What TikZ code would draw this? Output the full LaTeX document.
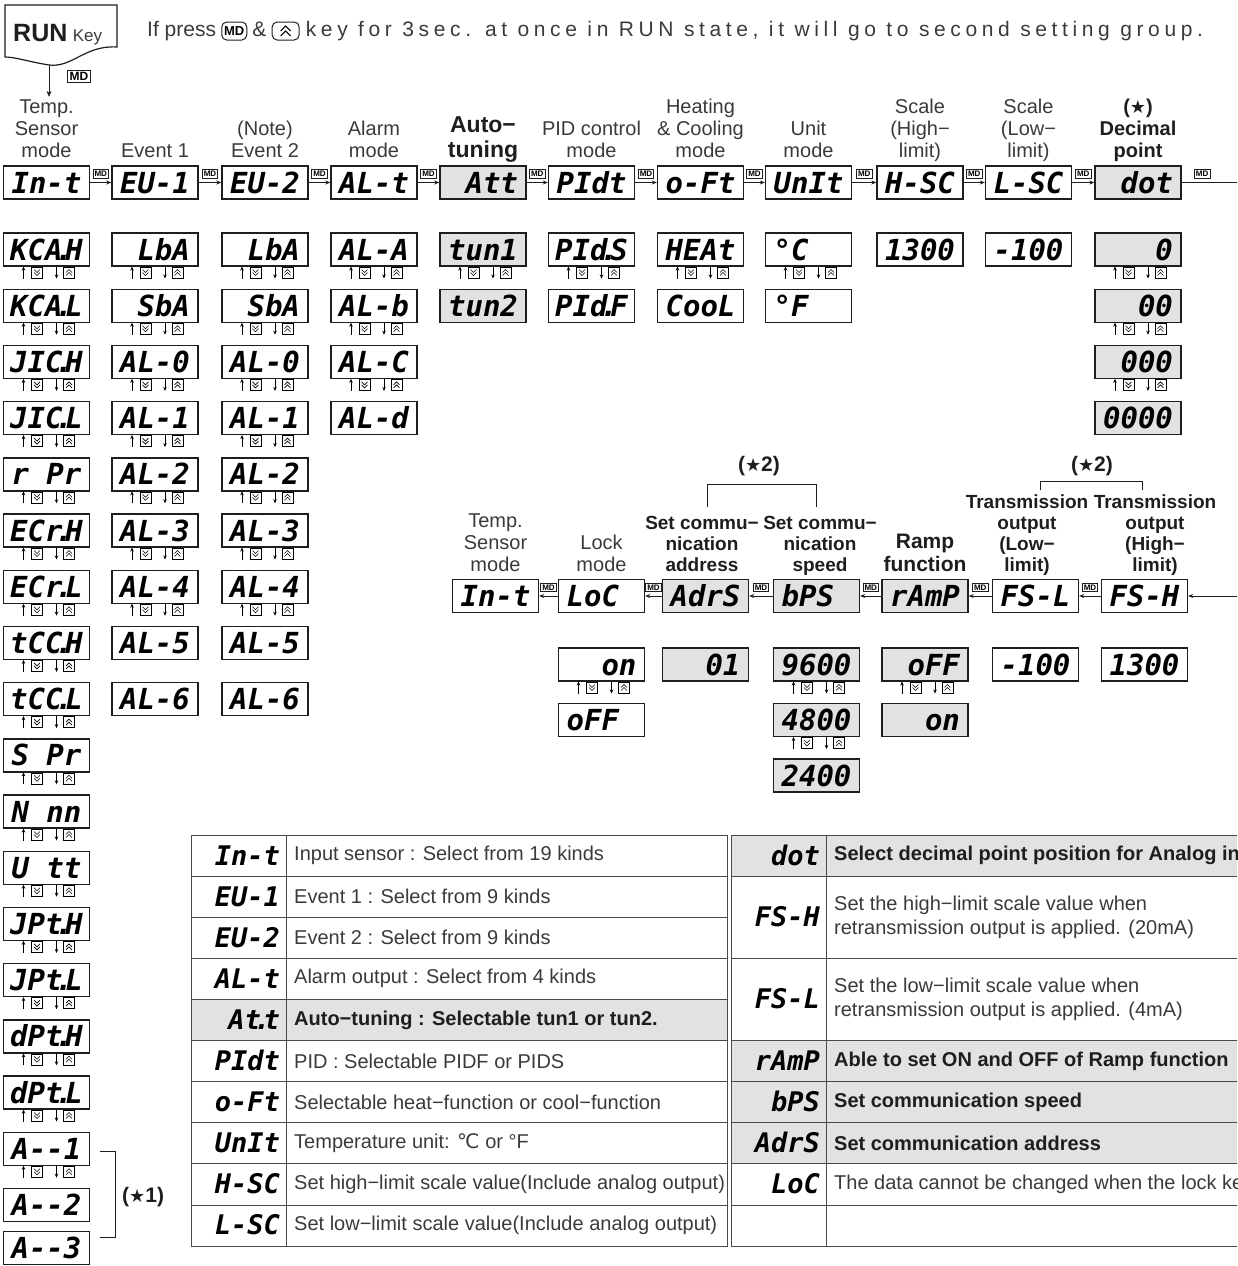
\documentclass[tikz,border=0pt]{standalone}
\usepackage{fontspec}
\setmainfont{Liberation Sans}
\newfontfamily\segfam{DejaVu Sans Mono}
\newfontfamily\symfam{DejaVu Sans}
\newfontfamily\widefam{Liberation Sans}[LetterSpace=22]
\usetikzlibrary{arrows.meta, positioning}
\definecolor{ink}{HTML}{1E1E1E}
\definecolor{txt}{HTML}{3A3A3A}
\definecolor{lcd}{HTML}{E2E2E2}
\definecolor{rulec}{HTML}{4A4A4A}
\newcommand{\sdot}{\rlap{\kern-0.25em.}\kern0.1em}
\newcommand{\blk}{\hphantom{0}}
\newcommand{\starsym}{{\symfam\fontsize{18}{18}\selectfont ★}}
\tikzset{
  disp/.style={draw=ink, line width=1.4pt, minimum width=86pt, minimum height=33pt,
    inner sep=0pt, text width=76pt, align=center, text height=21pt, text depth=0pt,
    font=\segfam\bfseries\itshape\fontsize{29}{29}\selectfont},
  dispg/.style={disp, fill=lcd},
  lbl/.style={anchor=south, inner sep=0pt, text depth=0pt, align=center, text=txt,
    font=\fontsize{20}{22}\selectfont},
  blbl/.style={lbl, text=ink, font=\bfseries\fontsize{19}{21}\selectfont},
  mdkey/.style={draw=ink, line width=0.6pt, inner sep=1.5pt, font=\bfseries\fontsize{8}{8}\selectfont},
  mdarr/.style={-{Stealth[length=5pt,width=4pt]}, line width=0.7pt, draw=ink},
  btn/.style={draw=ink, line width=1pt, rounded corners=5pt, minimum height=18pt,
    minimum width=25pt, inner sep=2pt, font=\bfseries\fontsize{13}{13}\selectfont},
  toptxt/.style={inner sep=0pt, text=txt, text height=15pt, text depth=4pt,
    font=\fontsize{21}{24}\selectfont},
  cellseg/.style={anchor=east, inner sep=0pt, text height=19pt, text depth=0pt,
    font=\segfam\bfseries\itshape\fontsize{27}{27}\selectfont},
  celltxt/.style={anchor=west, inner sep=0pt, align=left, text=txt, font=\fontsize{20}{24}\selectfont},
  cellbold/.style={celltxt, text=ink, font=\bfseries\fontsize{20}{24}\selectfont},
  updn/.pic={
    \draw[line width=0.9pt, -{Stealth[length=4pt,width=3.5pt]}] (-23,6) -- (-23,-6);
    \draw[line width=0.5pt] (-15,-5.5) rectangle (-4,5.5);
    \draw[line width=0.6pt] (-12.5,-3) -- (-9.5,0) -- (-6.5,-3) (-12.5,0) -- (-9.5,3) -- (-6.5,0);
    \draw[line width=0.9pt, -{Stealth[length=4pt,width=3.5pt]}] (10,-6) -- (10,6);
    \draw[line width=0.5pt] (17,-5.5) rectangle (28,5.5);
    \draw[line width=0.6pt] (19.5,0) -- (22.5,-3) -- (25.5,0) (19.5,3) -- (22.5,0) -- (25.5,3);
  }
}

\begin{document}
\begin{tikzpicture}[x=1pt, y=-1pt]
  \useasboundingbox (0,0) rectangle (1237,1266);
  \clip (0,0) rectangle (1237,1266);

  % RUN key and the note on top
  \draw[draw=ink, line width=1.2pt] (5,5) -- (117,5) -- (117,47)
    .. controls (85,45) and (72,68) .. (49,65) .. controls (30,62) and (15,57) .. (5,57) -- cycle;
  \node[anchor=base west, inner sep=0pt, text=ink, font=\bfseries\fontsize{25}{25}\selectfont] (run) at (13,41) {RUN};
  \node[inner sep=0pt, text=txt, font=\fontsize{17}{17}\selectfont, right=5pt of run.base east, anchor=base west] (key) {Key};
  \coordinate (runbot) at (49,65);
  \node[mdkey, font=\bfseries\fontsize{12}{12}\selectfont, inner sep=2pt] (runmd) at (79,76) {MD};

  \node[toptxt, anchor=west] (ifp) at (147,31) {If press};
  \node[btn, right=5pt of ifp] (bmd) {MD};
  \node[toptxt, right=5pt of bmd] (amp) {\&};
  \node[btn, right=5pt of amp, minimum width=27pt] (bup) {};
  \draw[line width=1pt] ([xshift=-5pt]bup.center) -- ([yshift=5pt]bup.center) -- ([xshift=5pt]bup.center);
  \draw[line width=1pt] ([xshift=-5pt,yshift=-5pt]bup.center) -- (bup.center) -- ([xshift=5pt,yshift=-5pt]bup.center);
  \node[toptxt, right=6pt of bup, font=\widefam\fontsize{21}{24}\selectfont] (rest) {key for 3sec. at once in RUN state, it will go to second setting group.};

  % first setting group
  \node[disp] (ins) at (46.5,182.5) {In-t};
  \node[disp] (ev1) at (155,182.5) {EU-1};
  \node[disp] (ev2) at (265,182.5) {EU-2};
  \node[disp] (alt) at (374,182.5) {AL-t};
  \node[dispg] (att) at (483,182.5) {\blk Att};
  \node[disp] (pid) at (591.5,182.5) {PIdt};
  \node[disp] (oft) at (700.5,182.5) {o-Ft};
  \node[disp] (unit) at (808.5,182.5) {UnIt};
  \node[disp] (hsc) at (920,182.5) {H-SC};
  \node[disp] (lsc) at (1028.5,182.5) {L-SC};
  \node[dispg] (dot) at (1138,182.5) {\blk dot};

  \node[lbl] (l-ins) at (46.5,158) {Temp.\\Sensor\\mode};
  \node[lbl] (l-ev1) at (155,158) {Event 1};
  \node[lbl] (l-ev2) at (265,158) {(Note)\\Event 2};
  \node[lbl] (l-alt) at (374,158) {Alarm\\mode};
  \node[blbl, font=\bfseries\fontsize{23}{25}\selectfont] (l-att) at (483,158) {Auto−\\tuning};
  \node[lbl] (l-pid) at (591.5,158) {PID control\\mode};
  \node[lbl] (l-oft) at (700.5,158) {Heating\\\& Cooling\\mode};
  \node[lbl] (l-unit) at (808.5,158) {Unit\\mode};
  \node[lbl] (l-hsc) at (920,158) {Scale\\(High−\\limit)};
  \node[lbl] (l-lsc) at (1028.5,158) {Scale\\(Low−\\limit)};
  \node[blbl, font=\bfseries\fontsize{20}{22}\selectfont] (l-dot) at (1138,158) {(\starsym)\\Decimal\\point};

  \draw[mdarr, -{Stealth[length=6pt,width=5pt]}] (runbot) -- ([yshift=3pt]runbot |- l-ins.north);

  \foreach \na/\nb in {ins/ev1, ev1/ev2, ev2/alt, alt/att, att/pid, pid/oft, oft/unit, unit/hsc, hsc/lsc, lsc/dot}
    \draw[mdarr] (\na) -- node[mdkey, midway, above=4pt] {MD} (\nb);
  \coordinate (exitA) at (1240,182.5);
  \draw[line width=0.7pt, draw=ink] (dot) -- node[mdkey, pos=0.35, above=4pt] {MD} (exitA);

  % settings of each mode
  \foreach \lab [count=\k from 0] in {KCA\sdot H, KCA\sdot L, JIC\sdot H, JIC\sdot L, r\blk Pr, ECr\sdot H,
      ECr\sdot L, tCC\sdot H, tCC\sdot L, S\blk Pr, N\blk nn, U\blk tt, JPt\sdot H, JPt\sdot L,
      dPt\sdot H, dPt\sdot L, A-{}-1, A-{}-2}
    \node[disp] (c1-\k) at (46.5, 249.5+56.2*\k) {\lab};
  \node[disp] (c1-18) at (46.5, 249.5+56.2*17+43) {A-{}-3};
  \foreach \k in {0,...,16}
    \pic at (46.5, 272.5+56.2*\k) {updn};
  \draw[line width=0.9pt, draw=ink] (c1-16.east) ++(10,3) -- ++(15,0) -- ++(0,86) -- ++(-15,0);
  \node[anchor=west, inner sep=0pt, text=ink, font=\bfseries\fontsize{21}{21}\selectfont] (star1) at (122,1197) {(\starsym1)};

  \foreach \xc/\cn in {155/c2, 265/c3} {
    \foreach \lab [count=\k from 0] in {\blk LbA, \blk SbA, AL-0, AL-1, AL-2, AL-3, AL-4, AL-5, AL-6}
      \node[disp] (\cn-\k) at (\xc, 249.5+56.2*\k) {\lab};
    \foreach \k in {0,...,6}
      \pic at (\xc, 272.5+56.2*\k) {updn};
  }
  \foreach \lab [count=\k from 0] in {AL-A, AL-b, AL-C, AL-d}
    \node[disp] (c4-\k) at (374, 249.5+56.2*\k) {\lab};
  \foreach \k in {0,1,2}
    \pic at (374, 272.5+56.2*\k) {updn};

  \node[dispg] (tun1) at (483,249.5) {tun1};
  \node[dispg] (tun2) at (483,305.7) {tun2};
  \node[disp] (pids) at (591.5,249.5) {PId\sdot S};
  \node[disp] (pidf) at (591.5,305.7) {PId\sdot F};
  \node[disp] (heat) at (700.5,249.5) {HEAt};
  \node[disp] (cool) at (700.5,305.7) {CooL};
  \node[disp] (degc) at (808.5,249.5) {°C\blk\blk};
  \node[disp] (degf) at (808.5,305.7) {°F\blk\blk};
  \foreach \xc in {483, 591.5, 700.5, 808.5}
    \pic at (\xc, 272.5) {updn};
  \node[disp] (hscv) at (920,249.5) {1300};
  \node[disp] (lscv) at (1028.5,249.5) {-100};
  \foreach \lab [count=\k from 0] in {\blk\blk\blk 0, \blk\blk 00, \blk 000, 0000}
    \node[dispg] (dp\k) at (1138, 249.5+56.2*\k) {\lab};
  \foreach \k in {0,1,2}
    \pic at (1138, 272.5+56.2*\k) {updn};

  % second setting group
  \node[disp] (ins2) at (495.5,596) {In-t};
  \node[disp] (loc) at (601.5,596) {LoC\blk};
  \node[dispg] (adrs) at (705.5,596) {AdrS};
  \node[dispg] (bps) at (816.5,596) {bPS\blk};
  \node[dispg] (ramp) at (925,596) {rAmP};
  \node[disp] (fsl) at (1035.5,596) {FS-L};
  \node[disp] (fsh) at (1144.5,596) {FS-H};

  \node[lbl] (l-ins2) at (495.5,572) {Temp.\\Sensor\\mode};
  \node[lbl] (l-loc) at (601.5,572) {Lock\\mode};
  \node[blbl] (l-adrs) at (702,572) {Set commu−\\nication\\address};
  \node[blbl] (l-bps) at (820,572) {Set commu−\\nication\\speed};
  \node[blbl, font=\bfseries\fontsize{21}{23}\selectfont] (l-ramp) at (925,572) {Ramp\\function};
  \node[blbl] (l-fsl) at (1027,572) {Transmission\\output\\(Low−\\limit)};
  \node[blbl] (l-fsh) at (1155,572) {Transmission\\output\\(High−\\limit)};

  \node[text=ink, inner sep=0pt, font=\bfseries\fontsize{21}{21}\selectfont] (star2a) at (759,466) {(\starsym2)};
  \node[text=ink, inner sep=0pt, font=\bfseries\fontsize{21}{21}\selectfont] (star2b) at (1092,466) {(\starsym2)};
  \draw[line width=0.8pt, draw=ink] (707,507) |- (816,484) -- (816,507);
  \draw[line width=0.8pt, draw=ink] (1040,490) |- (1142,481) -- (1142,490);

  \coordinate (exitB) at (1240,596);
  \draw[mdarr] (exitB) -- (fsh);
  \foreach \na/\nb in {fsh/fsl, fsl/ramp, ramp/bps, bps/adrs, adrs/loc, loc/ins2}
    \draw[mdarr] (\na) -- node[mdkey, midway, above=4pt] {MD} (\nb);

  \node[disp] (lon) at (601.5,664.5) {\blk\blk on};
  \node[disp] (loff) at (601.5,720) {oFF\blk};
  \node[dispg] (addr) at (705.5,664.5) {\blk\blk 01};
  \foreach \lab [count=\k from 0] in {9600, 4800, 2400}
    \node[dispg] (bd\k) at (816.5, 664.5+55.5*\k) {\lab};
  \node[dispg] (roff) at (925,664.5) {\blk oFF};
  \node[dispg] (ron) at (925,720) {\blk\blk on};
  \node[disp] (fslv) at (1035.5,664.5) {-100};
  \node[disp] (fshv) at (1144.5,664.5) {1300};
  \foreach \xc/\yc in {601.5/687.5, 816.5/687.5, 816.5/743, 925/687.5}
    \pic at (\xc,\yc) {updn};

  % table
  \fill[lcd] (191,999.4) rectangle (727,1040.5);
  \fill[lcd] (731,835) rectangle (1240,876.1);
  \fill[lcd] (731,1040.5) rectangle (1240,1163.8);
  \draw[rulec, line width=0.8pt] (191,835) rectangle (727,1246);
  \foreach \i in {1,...,9}
    \draw[rulec, line width=0.8pt] (191, 835+41.1*\i) -- (727, 835+41.1*\i);
  \draw[rulec, line width=0.8pt] (286,835) -- (286,1246);
  \draw[rulec, line width=0.8pt] (731,835) -- (1240,835) (731,1246) -- (1240,1246)
    (731,835) -- (731,1246) (826,835) -- (826,1246);
  \foreach \i in {1,3,5,6,7,8,9}
    \draw[rulec, line width=0.8pt] (731, 835+41.1*\i) -- (1240, 835+41.1*\i);

  \foreach \lab/\dsc [count=\i from 0] in {
      In-t/Input sensor : Select from 19 kinds,
      EU-1/Event 1 : Select from 9 kinds,
      EU-2/Event 2 : Select from 9 kinds,
      AL-t/Alarm output : Select from 4 kinds,
      At\sdot t/{\bfseries\color{ink}Auto−tuning : Selectable tun1 or tun2.},
      PIdt/PID : Selectable PIDF or PIDS,
      o-Ft/Selectable heat−function or cool−function,
      UnIt/Temperature unit: {\symfam ℃} or °F,
      H-SC/Set high−limit scale value(Include analog output),
      L-SC/Set low−limit scale value(Include analog output)} {
    \node[cellseg] (tk\i) at (280, 855.5+41.1*\i) {\lab};
    \node[celltxt] (td\i) at (294, 855.5+41.1*\i) {\dsc};
  }

  \node[cellseg] (rk0) at (820,855.5) {dot};
  \node[cellbold] (rd0) at (834,855.5) {Select decimal point position for Analog input};
  \node[cellseg] (rk1) at (820,917.2) {FS-H};
  \node[celltxt] (rd1) at (834,917.2) {Set the high−limit scale value when\\retransmission output is applied. (20mA)};
  \node[cellseg] (rk2) at (820,999.4) {FS-L};
  \node[celltxt] (rd2) at (834,999.4) {Set the low−limit scale value when\\retransmission output is applied. (4mA)};
  \node[cellseg] (rk3) at (820,1061) {rAmP};
  \node[cellbold] (rd3) at (834,1061) {Able to set ON and OFF of Ramp function};
  \node[cellseg] (rk4) at (820,1102.2) {bPS};
  \node[cellbold] (rd4) at (834,1102.2) {Set communication speed};
  \node[cellseg] (rk5) at (820,1143.3) {AdrS};
  \node[cellbold] (rd5) at (834,1143.3) {Set communication address};
  \node[cellseg] (rk6) at (820,1184.4) {LoC};
  \node[celltxt] (rd6) at (834,1184.4) {The data cannot be changed when the lock key};
\end{tikzpicture}
\end{document}
